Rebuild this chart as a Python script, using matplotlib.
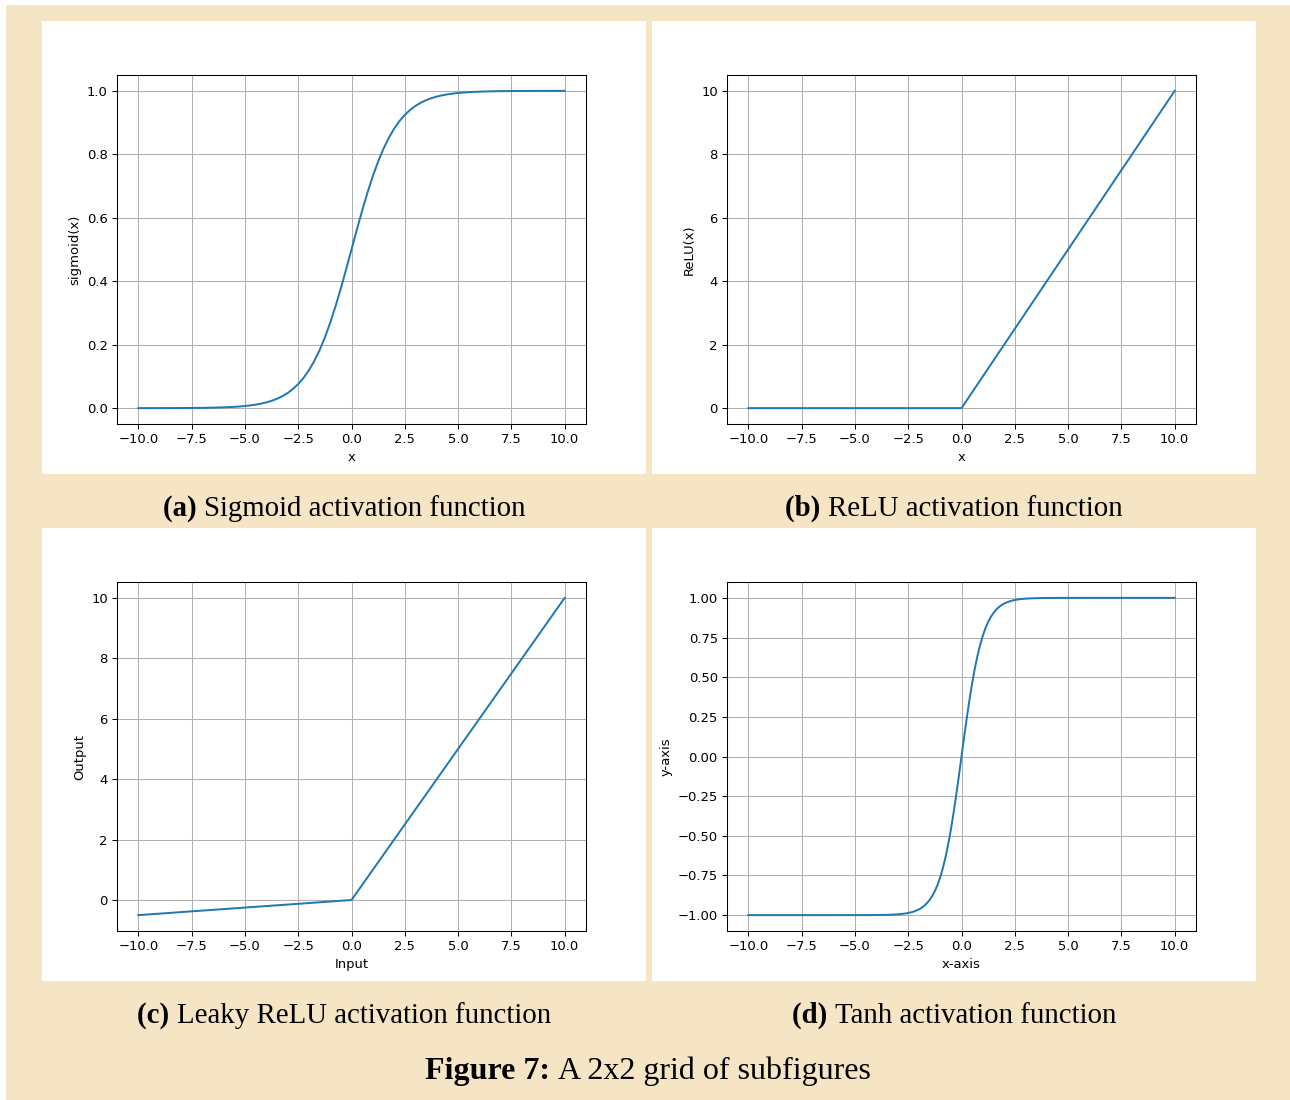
import matplotlib
matplotlib.use("Agg")
import matplotlib.pyplot as plt
from matplotlib.patches import Rectangle

# ---- data ----
sig_x = [-10.0, -9.0, -8.0, -7.5, -7.0, -6.5, -6.0, -5.75, -5.5, -5.25, -5.0,
         -4.75, -4.5, -4.25, -4.0, -3.75, -3.5, -3.25, -3.0, -2.75, -2.5,
         -2.25, -2.0, -1.75, -1.5, -1.25, -1.0, -0.75, -0.5, -0.25, 0.0,
         0.25, 0.5, 0.75, 1.0, 1.25, 1.5, 1.75, 2.0, 2.25, 2.5,
         2.75, 3.0, 3.25, 3.5, 3.75, 4.0, 4.25, 4.5, 4.75, 5.0,
         5.25, 5.5, 5.75, 6.0, 6.5, 7.0, 7.5, 8.0, 9.0, 10.0]
sig_y = [0.0000, 0.0001, 0.0003, 0.0006, 0.0009, 0.0015, 0.0025, 0.0032, 0.0041, 0.0052, 0.0067,
         0.0086, 0.0110, 0.0140, 0.0180, 0.0230, 0.0293, 0.0373, 0.0474, 0.0601, 0.0759,
         0.0953, 0.1192, 0.1480, 0.1824, 0.2227, 0.2689, 0.3208, 0.3775, 0.4378, 0.5000,
         0.5622, 0.6225, 0.6792, 0.7311, 0.7773, 0.8176, 0.8520, 0.8808, 0.9047, 0.9241,
         0.9399, 0.9526, 0.9627, 0.9707, 0.9770, 0.9820, 0.9860, 0.9890, 0.9914, 0.9933,
         0.9948, 0.9959, 0.9968, 0.9975, 0.9985, 0.9991, 0.9994, 0.9997, 0.9999, 1.0000]

relu_x = [-10.0, 0.0, 10.0]
relu_y = [0.0, 0.0, 10.0]

leaky_x = [-10.0, 0.0, 10.0]
leaky_y = [-0.5, 0.0, 10.0]

tanh_x = [-10.0, -8.0, -6.0, -5.0, -4.5, -4.0, -3.5, -3.0, -2.75, -2.5, -2.25, -2.0,
          -1.875, -1.75, -1.625, -1.5, -1.375, -1.25, -1.125, -1.0,
          -0.875, -0.75, -0.625, -0.5, -0.375, -0.25, -0.125, 0.0,
          0.125, 0.25, 0.375, 0.5, 0.625, 0.75, 0.875, 1.0,
          1.125, 1.25, 1.375, 1.5, 1.625, 1.75, 1.875, 2.0,
          2.25, 2.5, 2.75, 3.0, 3.5, 4.0, 4.5, 5.0, 6.0, 8.0, 10.0]
tanh_y = [-1.0, -1.0, -1.0, -0.9999, -0.9998, -0.9993, -0.9982, -0.9951, -0.9918, -0.9866, -0.9780, -0.9640,
          -0.9540, -0.9414, -0.9253, -0.9051, -0.8798, -0.8483, -0.8093, -0.7616,
          -0.7039, -0.6351, -0.5546, -0.4621, -0.3584, -0.2449, -0.1244, 0.0,
          0.1244, 0.2449, 0.3584, 0.4621, 0.5546, 0.6351, 0.7039, 0.7616,
          0.8093, 0.8483, 0.8798, 0.9051, 0.9253, 0.9414, 0.9540, 0.9640,
          0.9780, 0.9866, 0.9918, 0.9951, 0.9982, 0.9993, 0.9998, 0.9999, 1.0, 1.0, 1.0]

panels = [
    (sig_x, sig_y, "x", "sigmoid(x)", "(a)", "Sigmoid activation function"),
    (relu_x, relu_y, "x", "ReLU(x)", "(b)", "ReLU activation function"),
    (leaky_x, leaky_y, "Input", "Output", "(c)", "Leaky ReLU activation function"),
    (tanh_x, tanh_y, "x-axis", "y-axis", "(d)", "Tanh activation function"),
]

W, H = 1290, 1100
BEIGE = "#f5e5c5"
SCALE = 0.944  # panels are shrunk default 640x480 figures

fig = plt.figure(figsize=(W / 100, H / 100), dpi=100)
fig.patch.set_facecolor("white")
fig.patches.append(Rectangle((6 / W, 0), 1 - 6 / W, 1 - 5 / H, transform=fig.transFigure,
                             facecolor=BEIGE, edgecolor="none", zorder=-10))

# panel top-left corners in pixels
origins = [(42, 21), (652, 21), (42, 528), (652, 528)]
pw, ph = 604, 453

plt.rcParams["font.size"] = 10 * SCALE

renderer = fig.canvas.get_renderer()


def caption(cx, base, bold, rest, size):
    t1 = fig.text(0, 1 - base / H, bold + " ", fontsize=size, weight="bold",
                  family="Liberation Serif", va="baseline")
    t2 = fig.text(0, 1 - base / H, rest, fontsize=size,
                  family="Liberation Serif", va="baseline")
    w1 = t1.get_window_extent(renderer).width
    w2 = t2.get_window_extent(renderer).width
    x0 = cx - (w1 + w2) / 2
    t1.set_x(x0 / W)
    t2.set_x((x0 + w1) / W)


for (px, py), (xs, ys, xl, yl, tag, cap) in zip(origins, panels):
    fig.patches.append(Rectangle((px / W, 1 - (py + ph) / H), pw / W, ph / H,
                                 transform=fig.transFigure, facecolor="white",
                                 edgecolor="none", zorder=-5))
    left = px + 75
    right = px + 544
    top = py + 54
    bottom = py + 403
    ax = fig.add_axes([left / W, 1 - bottom / H, (right - left) / W, (bottom - top) / H])
    ax.plot(xs, ys, color="#1f77b4", lw=1.5 * SCALE)
    ax.set_xlabel(xl, fontsize=10 * SCALE, labelpad=4 * SCALE)
    ax.set_ylabel(yl, fontsize=10 * SCALE, labelpad=4 * SCALE)
    ax.grid(True, color="#b0b0b0", lw=0.8 * SCALE)
    ax.tick_params(labelsize=10 * SCALE, width=0.8 * SCALE, length=3.5 * SCALE, pad=3.5 * SCALE)
    for s in ax.spines.values():
        s.set_linewidth(0.8 * SCALE)
    caption(px + pw / 2, py + ph + 42, tag, cap, 20.8)

caption(W / 2 + 3, 1079, "Figure 7:", "A 2x2 grid of subfigures", 23)

fig.savefig("out.png", dpi=100)
